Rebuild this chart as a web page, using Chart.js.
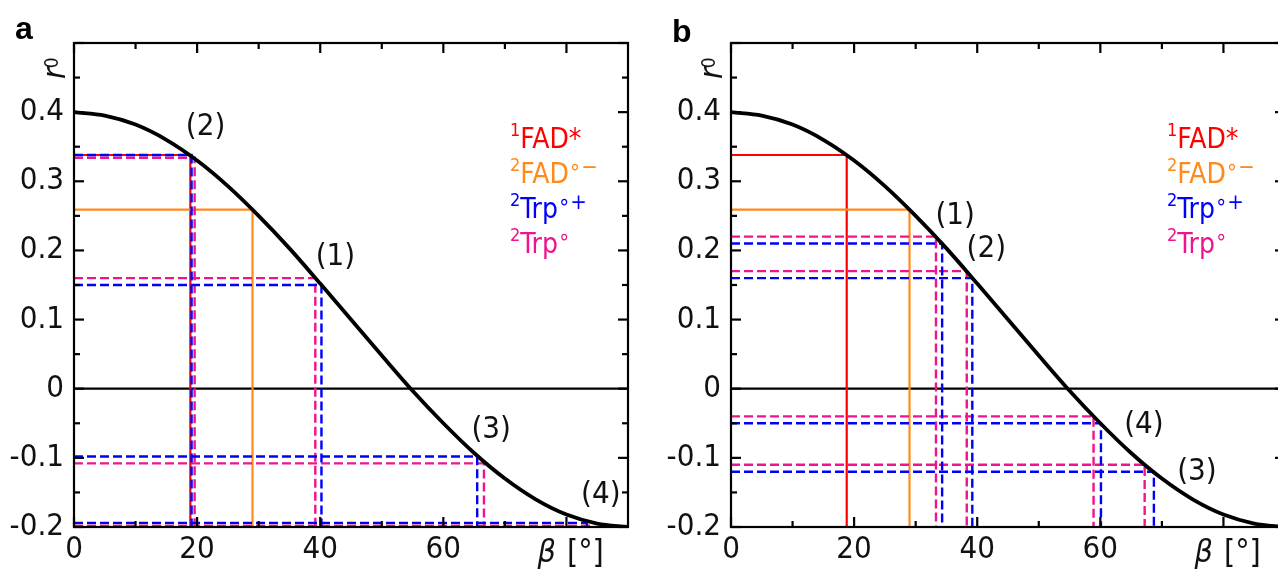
<!DOCTYPE html>
<html lang="en">
<head>
  <meta charset="UTF-8" />
  <title>r0 against beta</title>
  <script src="https://cdn.jsdelivr.net/npm/chart.js"></script>
  <style>
    html, body { margin: 0; padding: 0; background: #fff; overflow: hidden; }
    .wrap { position: relative; width: 1278px; height: 572px; overflow: hidden; }
    .panel { position: absolute; top: 0; height: 572px; }
    #panelA { left: 0; width: 640px; }
    #panelB { left: 640px; width: 660px; }
  </style>
</head>
<body>
  <div class="wrap">
    <div class="panel" id="panelA"><canvas id="chartA"></canvas></div>
    <div class="panel" id="panelB"><canvas id="chartB"></canvas></div>
  </div>

  <script>
    // axes
    const xRange = [0, 90];
    const yRange = [-0.2, 0.5];
    const xMajor = [0, 20, 40, 60, 80];
    const xLabels = ['0', '20', '40', '60', ''];
    const xMinor = [10, 30, 50, 70];
    const yMajor = [-0.2, -0.1, 0, 0.1, 0.2, 0.3, 0.4, 0.5];
    const yLabels = ['-0.2', '-0.1', '0', '0.1', '0.2', '0.3', '0.4', ''];
    const yMinor = [-0.15, -0.05, 0.05, 0.15, 0.25, 0.35, 0.45];

    // r0(beta) curve, every 5 degrees
    const curveBeta = [0, 5, 10, 15, 20, 25, 30, 35, 40, 45, 50, 55, 60, 65, 70, 75, 80, 85, 90];
    const curveR0 = [0.400, 0.395, 0.382, 0.360, 0.330, 0.293, 0.250, 0.203, 0.152, 0.100,
                     0.048, -0.003, -0.050, -0.093, -0.130, -0.160, -0.182, -0.195, -0.200];

    // panel a  (Trp points ordered (1)..(4))
    const fadStarBetaA = [18.9];
    const fadStarR0A = [0.338];
    const fadRadBetaA = [29.0];
    const fadRadR0A = [0.259];
    const trpCatBetaA = [40.2, 19.1, 65.5, 83.3];
    const trpCatR0A = [0.150, 0.338, -0.098, -0.194];
    const trpNeuBetaA = [39.2, 19.6, 66.6, 84.2];
    const trpNeuR0A = [0.160, 0.334, -0.108, -0.198];

    // panel b
    const fadStarBetaB = [18.8];
    const fadStarR0B = [0.338];
    const fadRadBetaB = [29.0];
    const fadRadR0B = [0.259];
    const trpCatBetaB = [34.3, 39.2, 68.7, 60.1];
    const trpCatR0B = [0.210, 0.160, -0.120, -0.050];
    const trpNeuBetaB = [33.3, 38.3, 67.2, 58.9];
    const trpNeuR0B = [0.220, 0.170, -0.110, -0.040];

    const pointNames = ['(1)', '(2)', '(3)', '(4)'];

    const RED = '#ff0000', ORANGE = '#ff8a1c', BLUE = '#0000ff', PINK = '#f0148c';
    const FONT = "'DejaVu Sans Condensed', 'DejaVu Sans', sans-serif";

    function guides(betas, r0s, color, dashed) {
      return betas.map((b, i) => ({
        data: [{x: xRange[0], y: r0s[i]}, {x: b, y: r0s[i]}, {x: b, y: yRange[0]}],
        borderColor: color,
        borderWidth: dashed ? 2.4 : 2.2,
        borderDash: dashed ? [9, 4] : [],
        showLine: true,
        pointRadius: 0,
        tension: 0
      }));
    }

    function buildDatasets(p) {
      const curve = {
        data: curveBeta.map((b, i) => ({x: b, y: curveR0[i]})),
        borderColor: '#000', borderWidth: 3.8, showLine: true, pointRadius: 0,
        cubicInterpolationMode: 'monotone'
      };
      const zero = {
        data: [{x: xRange[0], y: 0}, {x: xRange[1], y: 0}],
        borderColor: '#000', borderWidth: 2.2, showLine: true, pointRadius: 0
      };
      // first dataset is drawn on top
      return [curve]
        .concat(guides(p.catBeta, p.catR0, BLUE, true))
        .concat(guides(p.neuBeta, p.neuR0, PINK, true))
        .concat(guides(p.radBeta, p.radR0, ORANGE, false))
        .concat(guides(p.starBeta, p.starR0, RED, false))
        .concat([zero]);
    }

    function richText(ctx, x, y, parts, color) {
      ctx.fillStyle = color;
      ctx.textAlign = 'left';
      ctx.textBaseline = 'alphabetic';
      parts.forEach(pt => {
        ctx.font = pt[1] + 'px ' + FONT;
        ctx.fillText(pt[0], x, y - pt[2]);
        x += ctx.measureText(pt[0]).width;
      });
    }

    const legendRows = [
      {color: RED, parts: [['1', 18, 12], ['FAD*', 28, 0]]},
      {color: ORANGE, parts: [['2', 18, 12], ['FAD', 28, 0], ['\u2218\u2212', 22, 9]]},
      {color: BLUE, parts: [['2', 18, 12], ['Trp', 28, 0], ['\u2218+', 22, 9]]},
      {color: PINK, parts: [['2', 18, 12], ['Trp', 28, 0], ['\u2218', 22, 9]]}
    ];

    const figurePlugin = {
      id: 'figure',
      afterDatasetsDraw(chart, args, o) {
        const {ctx, chartArea: a, scales: {x, y}} = chart;
        ctx.save();
        ctx.strokeStyle = '#000';
        ctx.lineWidth = 2.2;
        const seg = (x1, y1, x2, y2) => { ctx.beginPath(); ctx.moveTo(x1, y1); ctx.lineTo(x2, y2); ctx.stroke(); };

        // frame with inward ticks
        ctx.strokeRect(a.left, a.top, a.right - a.left, a.bottom - a.top);
        xMajor.forEach(v => { const p = x.getPixelForValue(v); seg(p, a.bottom, p, a.bottom - 10); seg(p, a.top, p, a.top + 10); });
        xMinor.forEach(v => { const p = x.getPixelForValue(v); seg(p, a.bottom, p, a.bottom - 6); seg(p, a.top, p, a.top + 6); });
        yMajor.forEach(v => { const p = y.getPixelForValue(v); seg(a.left, p, a.left + 10, p); seg(a.right, p, a.right - 10, p); });
        yMinor.forEach(v => { const p = y.getPixelForValue(v); seg(a.left, p, a.left + 6, p); seg(a.right, p, a.right - 6, p); });

        // (1)..(4)
        ctx.fillStyle = '#111';
        ctx.font = '31px ' + FONT;
        ctx.textAlign = 'center';
        ctx.textBaseline = 'middle';
        pointNames.forEach((t, i) => {
          const px = x.getPixelForValue(o.anchorBeta[i]) + o.offsets[i][0];
          const py = y.getPixelForValue(o.anchorR0[i]) + o.offsets[i][1];
          ctx.fillText(t, px, py);
        });

        // legend
        legendRows.forEach((row, i) => {
          richText(ctx, a.left + 436, a.top + 105 + i * 35, row.parts, row.color);
        });

        // panel letter
        ctx.fillStyle = '#000';
        ctx.font = 'bold 32px "Liberation Sans", Arial, sans-serif';
        ctx.textAlign = 'left';
        ctx.textBaseline = 'alphabetic';
        ctx.fillText(o.letter, a.left - 59, o.letterY);

        // r0 title, rotated
        ctx.save();
        ctx.translate(a.left - 9, a.top + 36);
        ctx.rotate(-Math.PI / 2);
        ctx.fillStyle = '#111';
        ctx.font = 'italic 32px ' + FONT;
        ctx.fillText('r', 0, 0);
        const rw = ctx.measureText('r').width;
        ctx.font = '19px ' + FONT;
        ctx.fillText('0', rw - 1, -7);
        ctx.restore();

        // beta title in place of the 80 label
        const bx = x.getPixelForValue(80) - 29;
        const by = a.bottom + 35;
        ctx.fillStyle = '#111';
        ctx.font = 'italic 32px ' + FONT;
        ctx.fillText('\u03b2', bx, by);
        const bw = ctx.measureText('\u03b2 ').width;
        ctx.font = '32px ' + FONT;
        ctx.fillText('[\u00b0]', bx + bw + 2, by);
        ctx.restore();
      }
    };

    function makeChart(id, p) {
      return new Chart(document.getElementById(id), {
        type: 'scatter',
        data: {datasets: buildDatasets(p)},
        plugins: [figurePlugin],
        options: {
          responsive: true,
          maintainAspectRatio: false,
          animation: false,
          layout: {padding: {top: 43, right: p.padRight, left: 0, bottom: 0}},
          plugins: {
            legend: {display: false},
            tooltip: {enabled: false},
            figure: {
              letter: p.letter,
              letterY: p.letterY,
              anchorBeta: p.catBeta,
              anchorR0: p.catR0,
              offsets: p.offsets
            }
          },
          scales: {
            x: {
              type: 'linear',
              min: xRange[0], max: xRange[1],
              afterBuildTicks: s => { s.ticks = xMajor.map(v => ({value: v})); },
              afterFit: s => { s.height = 45; s.paddingLeft = 0; s.paddingRight = 0; },
              ticks: {
                callback: (v, i) => xLabels[i],
                color: '#111',
                font: {family: FONT, size: 31},
                padding: 4,
                maxRotation: 0, autoSkip: false
              },
              grid: {display: false, drawTicks: false},
              border: {display: false}
            },
            y: {
              type: 'linear',
              min: yRange[0], max: yRange[1],
              afterBuildTicks: s => { s.ticks = yMajor.map(v => ({value: v})); },
              afterFit: s => { s.width = p.axisWidth; s.paddingTop = 0; s.paddingBottom = 0; },
              ticks: {
                callback: (v, i) => yLabels[i],
                color: '#111',
                font: {family: FONT, size: 31},
                padding: 10,
                autoSkip: false
              },
              grid: {display: false, drawTicks: false},
              border: {display: false}
            }
          }
        }
      });
    }

    makeChart('chartA', {
      letter: 'a', letterY: 39, axisWidth: 74, padRight: 12,
      starBeta: fadStarBetaA, starR0: fadStarR0A,
      radBeta: fadRadBetaA, radR0: fadRadR0A,
      catBeta: trpCatBetaA, catR0: trpCatR0A,
      neuBeta: trpNeuBetaA, neuR0: trpNeuR0A,
      offsets: [[14, -28], [14, -28], [14, -27], [14, -28]]
    });

    makeChart('chartB', {
      letter: 'b', letterY: 42, axisWidth: 91, padRight: 15,
      starBeta: fadStarBetaB, starR0: fadStarR0B,
      radBeta: fadRadBetaB, radR0: fadRadR0B,
      catBeta: trpCatBetaB, catR0: trpCatR0B,
      neuBeta: trpNeuBetaB, neuR0: trpNeuR0B,
      offsets: [[13, -28], [14, -29], [43, 0], [43, 2]]
    });
  </script>
</body>
</html>
